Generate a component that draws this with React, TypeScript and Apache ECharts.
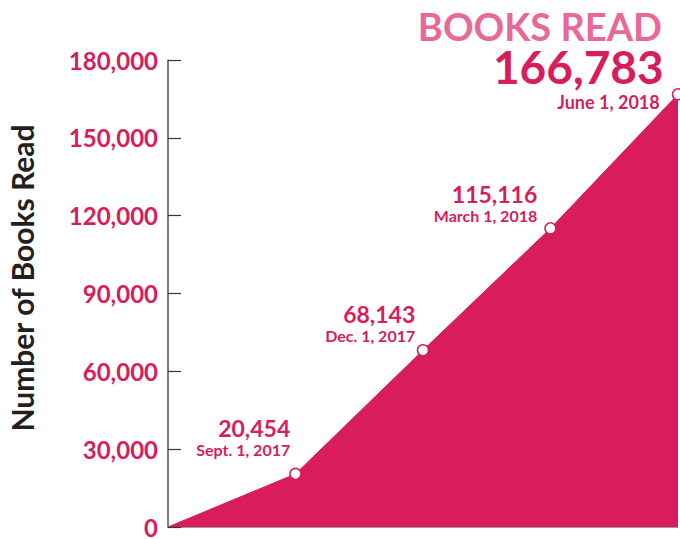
import React, { useEffect, useRef } from "react";
import * as echarts from "echarts";

const categories = ["June 1, 2017", "Sept. 1, 2017", "Dec. 1, 2017", "March 1, 2018", "June 1, 2018"];
const booksRead = [0, 20454, 68143, 115116, 166783];
const yTicks = [0, 30000, 60000, 90000, 120000, 150000, 180000];
const chartTitle = "BOOKS READ";
const yAxisTitle = "Number of Books Read";

const MAIN = "#D81C5C";
const TITLE = "#E8689A";
const FONT = "Lato, 'Open Sans', sans-serif";

// label anchor offsets (layout only)
const labelPos: [number, number][] = [
  [0, 0],
  [1, -10],
  [-1.5, 0.5],
  [-7, 1.5],
  [-8, 26],
];

const fmt = (v: number) => v.toLocaleString("en-US");

export default function App() {
  const ref = useRef<HTMLDivElement>(null);
  useEffect(() => {
    if (!ref.current) return;
    const chart = echarts.init(ref.current, null, { renderer: "svg" });
    const last = booksRead.length - 1;
    const data = booksRead.map((v, i) => {
      if (i === 0) {
        return { value: v, symbol: "none", label: { show: false } };
      }
      if (i === last) {
        return {
          value: v,
          label: {
            show: true,
            position: labelPos[i],
            align: "right",
            verticalAlign: "bottom",
            formatter: (p: any) => `{v|${fmt(p.value)}}\n{d|${p.name}}`,
            rich: {
              v: { fontSize: 46, lineHeight: 46, fontWeight: "bold", color: MAIN, fontFamily: FONT, align: "right" },
              d: {
                fontSize: 18,
                lineHeight: 25,
                fontWeight: "bold",
                color: MAIN,
                fontFamily: FONT,
                align: "right",
                padding: [0, 4, 0, 0],
              },
            },
          },
        };
      }
      return { value: v, label: { show: true, position: labelPos[i] } };
    });
    chart.setOption({
      animation: false,
      title: {
        text: chartTitle,
        right: 18,
        top: 9,
        padding: 0,
        textStyle: { color: TITLE, fontSize: 38, lineHeight: 34, fontWeight: "bold", fontFamily: FONT },
      },
      grid: { left: 168, right: 2, top: 60, bottom: 8, containLabel: false },
      xAxis: {
        type: "category",
        data: categories,
        boundaryGap: false,
        axisLabel: { show: false },
        axisTick: { show: false },
        axisLine: { show: true, lineStyle: { color: "#999999", width: 1 } },
        splitLine: { show: false },
      },
      yAxis: {
        type: "value",
        min: yTicks[0],
        max: yTicks[yTicks.length - 1],
        interval: yTicks[1] - yTicks[0],
        axisLine: { show: true, lineStyle: { color: "#555555", width: 1.5 } },
        axisTick: { show: true, inside: true, length: 13, lineStyle: { color: "#333333", width: 1.2 } },
        splitLine: { show: false },
        axisLabel: {
          margin: 10,
          formatter: (v: number) => fmt(v),
          color: MAIN,
          fontSize: 24,
          fontWeight: "bold",
          fontFamily: FONT,
        },
      },
      graphic: [
        {
          type: "text",
          x: 22,
          y: 278,
          rotation: Math.PI / 2,
          style: {
            text: yAxisTitle,
            fill: "#231F20",
            font: `bold 30px ${FONT}`,
            textAlign: "center",
            textVerticalAlign: "middle",
          },
        },
      ],
      series: [
        {
          type: "line",
          data,
          symbol: "circle",
          symbolSize: 11,
          showAllSymbol: true,
          itemStyle: { color: "#ffffff", borderColor: MAIN, borderWidth: 1.5 },
          lineStyle: { color: MAIN, width: 1 },
          areaStyle: { color: MAIN, opacity: 1 },
          label: {
            show: true,
            align: "right",
            verticalAlign: "bottom",
            formatter: (p: any) => `{v|${fmt(p.value)}}\n{d|${p.name}}`,
            rich: {
              v: { fontSize: 23, lineHeight: 26, fontWeight: "bold", color: MAIN, fontFamily: FONT, align: "right" },
              d: { fontSize: 16, lineHeight: 17, fontWeight: "bold", color: MAIN, fontFamily: FONT, align: "right" },
            },
          },
          z: 2,
        },
      ],
    });
    return () => chart.dispose();
  }, []);
  return (
    <div
      ref={ref}
      style={{ position: "fixed", left: 0, top: 0, width: 680, height: 539, background: "#ffffff" }}
    />
  );
}
